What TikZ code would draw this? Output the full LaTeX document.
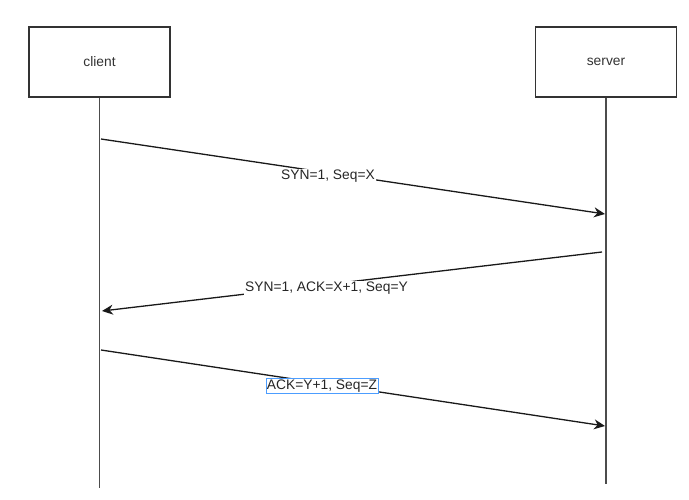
\documentclass[tikz,border=0pt]{standalone}
\usepackage{fontspec}
\setmainfont{Liberation Sans}
\usetikzlibrary{arrows.meta}
\begin{document}
\begin{tikzpicture}[x=1pt,y=-1pt,
  actor/.style={draw=black!80,line width=1.2pt,minimum width=141pt,minimum height=70pt,inner sep=0pt,font=\fontsize{13.8}{16}\selectfont,text=black!80},
  life/.style={draw=black!70,line width=1.4pt},
  msg/.style={draw=black!90,line width=1.3pt,-{Stealth[length=11pt,width=10pt,inset=3.5pt]}},
  lbl/.style={fill=white,inner sep=1pt,font=\fontsize{13.8}{16}\selectfont,text=black!85},
  sel/.style={lbl,draw=blue!55!cyan!70,line width=0.8pt,inner sep=1pt}]
\useasboundingbox (0,0) rectangle (689,500);
\node[actor] (client) at (99.5,62) {client};
\node[actor] (server) at (606,62) {server};
\coordinate (cend) at (99.5,488);
\coordinate (send) at (606,484);
\draw[life] (client.south) -- (cend);
\draw[life] (server.south) -- (send);
% message endpoints
\coordinate (a1) at (101,139);
\coordinate (b1) at (605,214);
\coordinate (a2) at (602,252);
\coordinate (b2) at (102,311);
\coordinate (a3) at (101,350);
\coordinate (b3) at (605,426);
\draw[msg] (a1) -- (b1);
\draw[msg] (a2) -- (b2);
\draw[msg] (a3) -- (b3);
\node[lbl] (l1) at (328,176.5) {SYN=1, Seq=X};
\node[lbl] (l2) at (326.5,288.5) {SYN=1, ACK=X+1, Seq=Y};
\node[sel] (l3) at (322,386) {ACK=Y+1, Seq=Z};
\end{tikzpicture}
\end{document}
